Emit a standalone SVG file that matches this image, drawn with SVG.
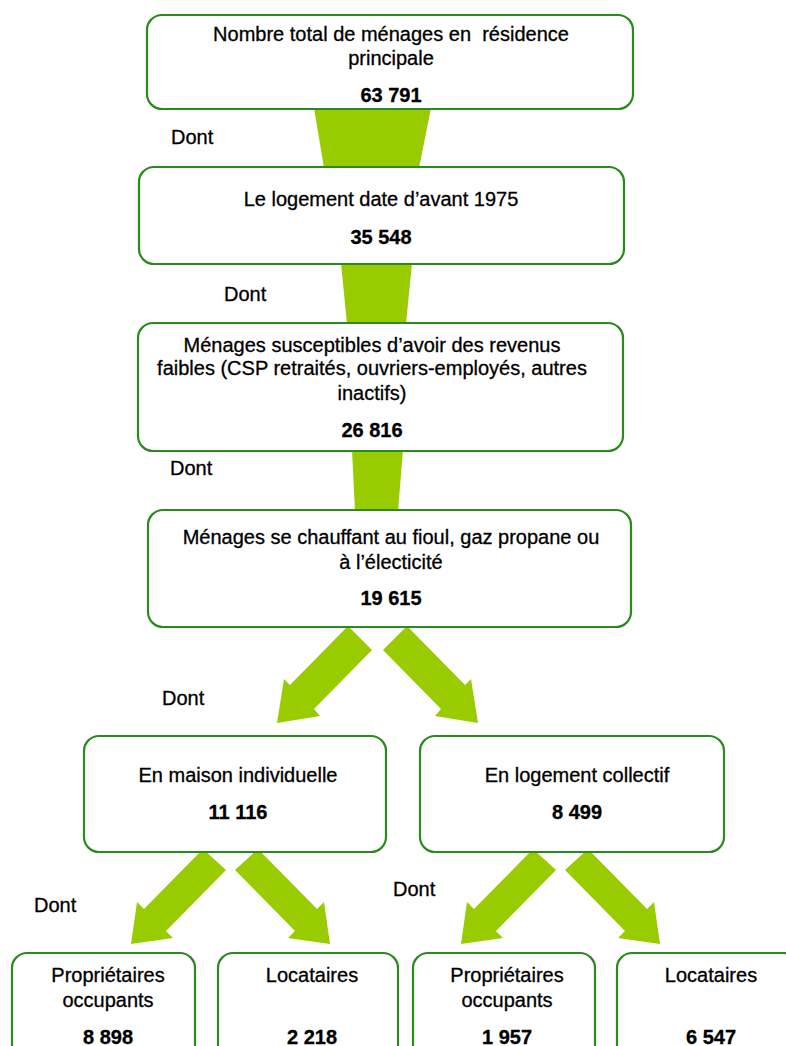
<svg xmlns="http://www.w3.org/2000/svg" width="786" height="1046" viewBox="0 0 786 1046">
<style>
.box{fill:#ffffff;stroke:#2a8a1c;stroke-width:2.2}
.c{fill:#99cc00}
text{font-family:"Liberation Sans",Arial,sans-serif;font-size:20px;fill:#000;stroke:#000;stroke-width:0.3;white-space:pre}
.t{text-anchor:middle}
.n{text-anchor:middle;font-weight:bold}
</style>
<rect width="786" height="1046" fill="#ffffff"/>
<g id="connectors">
<polygon class="c" points="314,108 431,108 419,168 324,168"/>
<polygon class="c" points="341,263 412,263 406,324 347,324"/>
<polygon class="c" points="352,450 403,450 398,511 355,511"/>
<polygon class="c" points="348,626 290,685 284,679 277,723 320,716 314,709 372,650"/>
<polygon class="c" points="407,626 465,685 471,679 478,723 435,716 441,709 383,650"/>
<polygon class="c" points="203,849 144,909 137,902 131,944 173,938 166,931 226,870"/>
<polygon class="c" points="258,849 317,909 324,902 330,944 288,938 295,931 235,870"/>
<polygon class="c" points="533,849 474,909 467,902 461,944 503,938 496,931 556,870"/>
<polygon class="c" points="588,849 647,909 654,902 660,944 618,938 625,931 565,870"/>
<text x="171" y="144">Dont</text>
<text x="224" y="301">Dont</text>
<text x="170" y="475">Dont</text>
<text x="162" y="705">Dont</text>
<text x="34" y="912">Dont</text>
<text x="393" y="896">Dont</text>
</g>
<g id="n1">
<rect class="box" x="147" y="15" width="486" height="94" rx="15"/>
<text class="t" x="391" y="41" xml:space="preserve">Nombre total de ménages en  résidence</text>
<text class="t" x="391" y="65">principale</text>
<text class="n" x="391" y="102">63 791</text>
</g>
<g id="n2">
<rect class="box" x="139" y="167" width="485" height="97" rx="15"/>
<text class="t" x="381" y="206">Le logement date d’avant 1975</text>
<text class="n" x="381" y="244">35 548</text>
</g>
<g id="n3">
<rect class="box" x="138" y="323" width="485" height="128" rx="15"/>
<text class="t" x="372" y="352">Ménages susceptibles d’avoir des revenus</text>
<text class="t" x="372" y="375">faibles (CSP retraités, ouvriers-employés, autres</text>
<text class="t" x="372" y="400">inactifs)</text>
<text class="n" x="372" y="437">26 816</text>
</g>
<g id="n4">
<rect class="box" x="148" y="510" width="483" height="117" rx="15"/>
<text class="t" x="391" y="544">Ménages se chauffant au fioul, gaz propane ou</text>
<text class="t" x="391" y="569">à l’électicité</text>
<text class="n" x="391" y="605">19 615</text>
</g>
<g id="n5">
<rect class="box" x="84" y="736" width="302" height="116" rx="15"/>
<text class="t" x="238" y="782">En maison individuelle</text>
<text class="n" x="238" y="819">11 116</text>
</g>
<g id="n6">
<rect class="box" x="420" y="736" width="304" height="116" rx="15"/>
<text class="t" x="577" y="782">En logement collectif</text>
<text class="n" x="577" y="819">8 499</text>
</g>
<g id="n7">
<rect class="box" x="12" y="953" width="183" height="110" rx="15"/>
<text class="t" x="108" y="982">Propriétaires</text>
<text class="t" x="108" y="1007">occupants</text>
<text class="n" x="108" y="1044">8 898</text>
</g>
<g id="n8">
<rect class="box" x="218" y="953" width="180" height="110" rx="15"/>
<text class="t" x="312" y="982">Locataires</text>
<text class="n" x="312" y="1044">2 218</text>
</g>
<g id="n9">
<rect class="box" x="413" y="953" width="182" height="110" rx="15"/>
<text class="t" x="507" y="982">Propriétaires</text>
<text class="t" x="507" y="1007">occupants</text>
<text class="n" x="507" y="1044">1 957</text>
</g>
<g id="n10">
<rect class="box" x="617" y="953" width="182" height="110" rx="15"/>
<text class="t" x="711" y="982">Locataires</text>
<text class="n" x="711" y="1044">6 547</text>
</g>
</svg>
